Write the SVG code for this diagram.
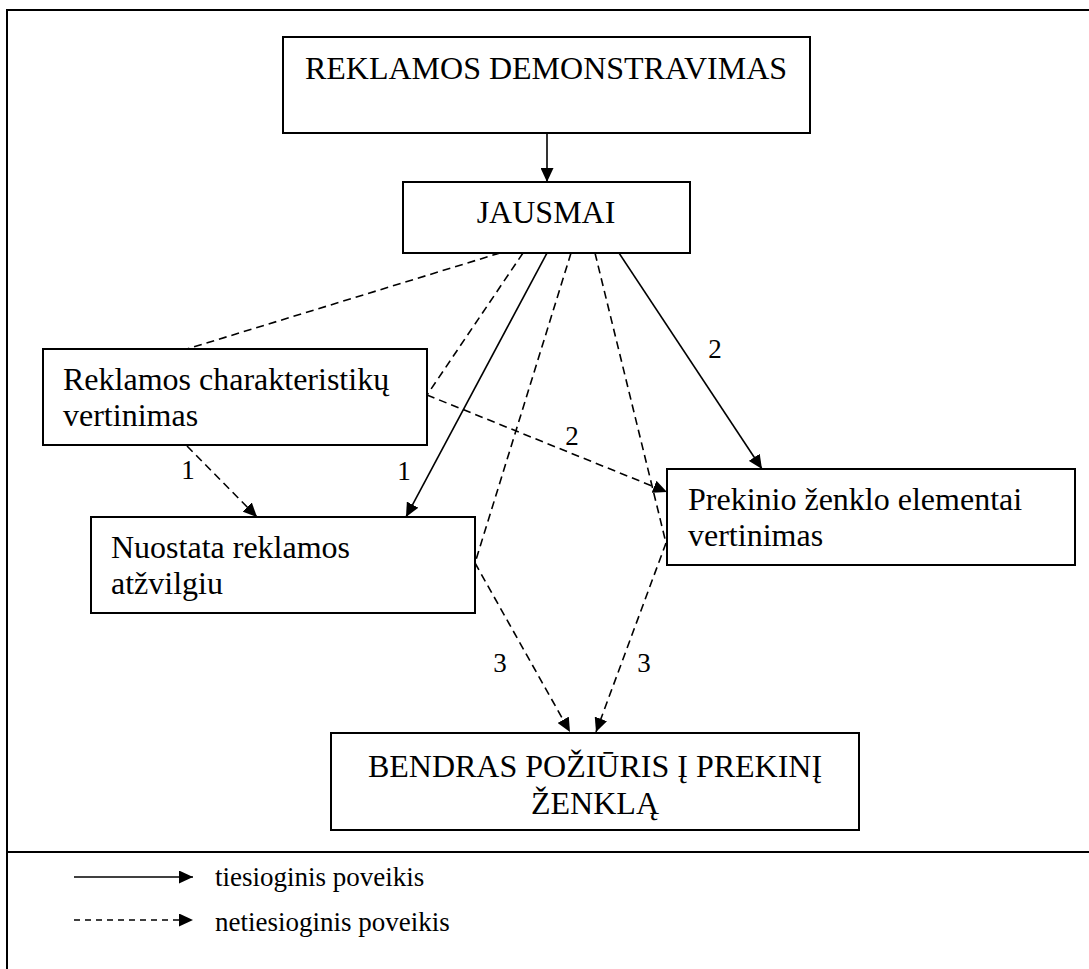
<svg xmlns="http://www.w3.org/2000/svg" width="1089" height="969" viewBox="0 0 1089 969">
<style>
.box{fill:#fff;stroke:#000;stroke-width:2}
.t{font-family:"Liberation Serif","Times New Roman",serif;font-size:32px;fill:#000}
.lbl{font-family:"Liberation Serif","Times New Roman",serif;font-size:27px;fill:#000}
.c{fill:none;stroke:#000;stroke-width:1.6}
.d{stroke-dasharray:8 5}
.frame{fill:none;stroke:#000;stroke-width:2}
</style>
<defs>
<marker id="ah" markerUnits="userSpaceOnUse" markerWidth="15" markerHeight="13" refX="14" refY="6.5" orient="auto">
<path d="M0,0 L14,6.5 L0,13 z" fill="#000"/>
</marker>
</defs>
<rect width="1089" height="969" fill="#fff"/>
<g id="frame">
<path class="frame" d="M7,969 V10 H1089"/>
<path class="frame" d="M7,852 H1089"/>
</g>
<g id="connectors">
<path class="c" d="M547,134 V182" marker-end="url(#ah)"/>
<path class="c d" d="M500,253 L187,349"/>
<path class="c d" d="M523,253 L427,395"/>
<path class="c d" d="M427,395 L667,492" marker-end="url(#ah)"/>
<path class="c" d="M547,253 L406,517" marker-end="url(#ah)"/>
<path class="c d" d="M571,253 L475,563"/>
<path class="c d" d="M475,563 L570,732" marker-end="url(#ah)"/>
<path class="c d" d="M595,253 L666,543"/>
<path class="c d" d="M666,543 L596,732" marker-end="url(#ah)"/>
<path class="c" d="M619,253 L762,469" marker-end="url(#ah)"/>
<path class="c d" d="M187,446 L257,517" marker-end="url(#ah)"/>
</g>
<g id="n-reklamos-demonstravimas">
<rect class="box" x="283" y="37" width="527" height="96"/>
<text class="t" x="546" y="79" text-anchor="middle">REKLAMOS DEMONSTRAVIMAS</text>
</g>
<g id="n-jausmai">
<rect class="box" x="403" y="182" width="287" height="71"/>
<text class="t" x="546" y="223" text-anchor="middle">JAUSMAI</text>
</g>
<g id="n-reklamos-charakteristiku">
<rect class="box" x="43" y="349" width="384" height="96"/>
<text class="t" x="63" y="390">Reklamos charakteristikų</text>
<text class="t" x="63" y="426">vertinimas</text>
</g>
<g id="n-nuostata">
<rect class="box" x="91" y="517" width="384" height="96"/>
<text class="t" x="111" y="558">Nuostata reklamos</text>
<text class="t" x="111" y="594">atžvilgiu</text>
</g>
<g id="n-prekinio">
<rect class="box" x="667" y="469" width="408" height="96"/>
<text class="t" x="688" y="510">Prekinio ženklo elementai</text>
<text class="t" x="688" y="546">vertinimas</text>
</g>
<g id="n-bendras">
<rect class="box" x="331" y="733" width="528" height="97"/>
<text class="t" x="595" y="777" text-anchor="middle">BENDRAS POŽIŪRIS Į PREKINĮ</text>
<text class="t" x="595" y="814" text-anchor="middle">ŽENKLĄ</text>
</g>
<g id="labels">
<text class="lbl" x="188" y="479" text-anchor="middle">1</text>
<text class="lbl" x="404" y="480" text-anchor="middle">1</text>
<text class="lbl" x="572" y="445" text-anchor="middle">2</text>
<text class="lbl" x="715" y="358" text-anchor="middle">2</text>
<text class="lbl" x="500" y="672" text-anchor="middle">3</text>
<text class="lbl" x="644" y="672" text-anchor="middle">3</text>
</g>
<g id="legend">
<path class="c" d="M74,877 H193" marker-end="url(#ah)"/>
<text class="lbl" x="215" y="886">tiesioginis poveikis</text>
<path class="c" d="M74,920 H193" stroke-dasharray="6 5" marker-end="url(#ah)"/>
<text class="lbl" x="215" y="931">netiesioginis poveikis</text>
</g>
</svg>
